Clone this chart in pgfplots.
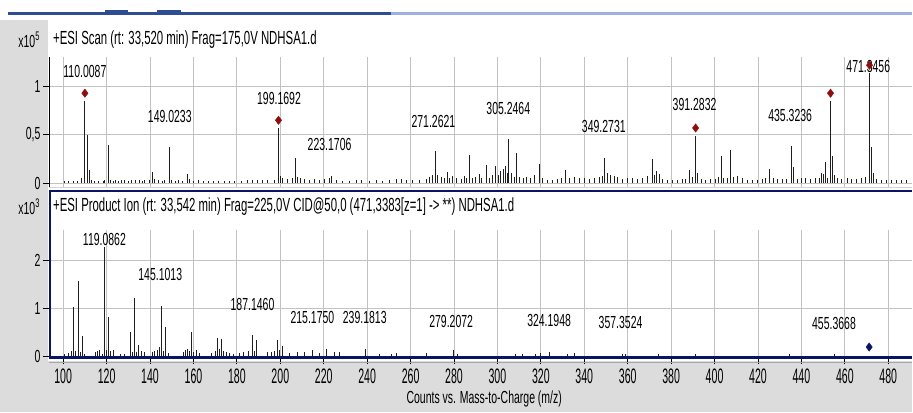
\documentclass[border=0pt]{standalone}
\usepackage{fontspec}
\setmainfont{Liberation Sans}
\newfontfamily\lbl{Liberation Sans}[FakeStretch=0.6]
\newfontfamily\ttl{Liberation Sans}[FakeStretch=0.6]
\newfontfamily\xtk{Liberation Sans}[FakeStretch=0.505]
\usepackage{pgfplots}
\usepackage{pgfplotstable}
\pgfplotsset{compat=1.18}
\definecolor{bgg}{HTML}{DCDCDC}
\definecolor{grd}{HTML}{C2C2C2}
\definecolor{navy}{HTML}{0A1464}
\definecolor{mred}{HTML}{8E0E0E}
\definecolor{chromeA}{HTML}{2E4D92}
\definecolor{chromeB}{HTML}{9DB1DE}
\definecolor{barc}{HTML}{1E1E1E}
\newcommand{\plab}{\lbl\fontsize{17.5}{17.5}\selectfont}

\pgfplotstableread{
mz val
100.48 0.02
102.32 0.02
104.62 0.02
106.46 0.02
108.45 0.05
110.01 0.85
111.0 0.50
112.0 0.14
113.05 0.03
114.27 0.02
116.11 0.02
118.41 0.02
119.18 0.03
121.0 0.39
121.94 0.03
123.01 0.02
124.23 0.03
125.61 0.02
126.84 0.03
128.06 0.03
129.90 0.02
131.44 0.03
133.28 0.03
134.96 0.03
136.34 0.02
137.57 0.03
139.87 0.03
140.94 0.11
142.17 0.04
143.70 0.03
145.54 0.02
146.76 0.03
149.02 0.37
149.83 0.03
151.67 0.02
152.89 0.03
154.73 0.02
157.03 0.09
158.26 0.04
159.79 0.02
162.09 0.03
164.39 0.02
166.69 0.02
168.98 0.02
171.28 0.02
174.35 0.02
176.65 0.02
178.95 0.02
182.01 0.02
185.08 0.03
187.38 0.03
189.67 0.03
191.97 0.03
194.27 0.03
197.34 0.03
199.17 0.57
200.10 0.07
201.17 0.05
203.47 0.04
205.77 0.05
207.0 0.26
208.07 0.06
209.29 0.05
211.13 0.04
213.43 0.03
215.73 0.04
218.03 0.03
220.33 0.04
222.63 0.05
223.70 0.07
225.7 0.03
228.8 0.02
231.8 0.02
234.9 0.03
237.2 0.03
241.0 0.02
244.1 0.03
247.1 0.02
250.2 0.03
253.3 0.04
255.6 0.04
257.9 0.03
260.9 0.03
264.0 0.03
267.1 0.04
268.6 0.06
270.1 0.08
271.26 0.33
272.4 0.08
274.0 0.06
275.5 0.05
277.0 0.11
278.1 0.05
279.3 0.07
280.9 0.05
283.2 0.04
284.7 0.07
285.8 0.05
287.0 0.29
288.5 0.05
290.1 0.06
291.6 0.09
292.8 0.05
295.0 0.19
296.2 0.05
297.7 0.08
299.3 0.18
300.5 0.08
301.6 0.12
302.6 0.15
303.5 0.18
304.5 0.10
305.25 0.455
306.5 0.10
307.7 0.06
308.9 0.31
310.3 0.06
311.8 0.05
313.3 0.06
315.3 0.05
316.9 0.08
319.2 0.20
320.7 0.05
323.0 0.03
325.3 0.03
327.6 0.04
329.6 0.05
331.4 0.14
333.3 0.05
335.3 0.06
337.6 0.05
339.9 0.05
342.2 0.04
344.5 0.05
346.8 0.06
348.3 0.07
349.27 0.26
350.6 0.10
352.1 0.08
354.1 0.07
355.2 0.06
357.5 0.04
359.8 0.05
362.1 0.05
364.4 0.04
366.7 0.05
369.0 0.07
371.3 0.25
372.4 0.08
373.3 0.12
374.4 0.09
375.9 0.04
378.2 0.03
380.5 0.03
382.8 0.03
385.1 0.04
386.6 0.04
388.3 0.14
389.7 0.06
391.28 0.49
392.3 0.10
393.8 0.04
395.8 0.03
398.1 0.04
400.4 0.04
401.9 0.06
403.0 0.28
404.2 0.05
406.1 0.05
407.1 0.345
408.5 0.06
410.4 0.07
412.7 0.05
415.0 0.03
417.3 0.03
419.6 0.03
421.9 0.04
423.4 0.05
425.2 0.145
426.9 0.05
428.8 0.04
431.1 0.04
433.0 0.04
435.32 0.386
436.4 0.165
438.0 0.04
439.8 0.05
441.8 0.05
444.1 0.04
446.4 0.05
448.4 0.05
449.3 0.10
450.2 0.09
451.1 0.22
452.0 0.05
453.4 0.845
454.2 0.28
455.1 0.08
456.6 0.05
458.6 0.04
461.0 0.05
463.2 0.04
465.5 0.04
467.8 0.05
469.4 0.06
471.35 1.14
472.3 0.37
473.2 0.10
474.7 0.04
477.0 0.03
479.3 0.03
481.6 0.03
483.9 0.03
486.2 0.03
488.5 0.03
}\topdata

\pgfplotstableread{
mz val
100.8 0.05
102.6 0.06
103.9 0.10
104.8 1.02
105.7 0.10
107.1 1.57
107.8 0.08
108.9 0.43
110.0 0.05
114.9 0.08
115.8 0.10
116.9 0.13
118.0 0.05
119.09 2.28
120.1 0.12
120.7 0.82
121.6 0.10
123.0 0.12
126.5 0.05
128.4 0.05
130.9 0.50
131.7 0.08
133.0 1.215
133.9 0.08
134.7 0.24
136.0 0.10
137.3 0.08
140.9 0.08
142.2 0.10
143.4 0.12
144.2 0.20
145.1 1.05
146.0 0.10
146.9 0.60
148.3 0.06
155.2 0.08
156.3 0.12
157.2 0.15
158.3 0.10
159.1 0.51
159.9 0.08
161.3 0.12
162.9 0.06
168.2 0.06
170.1 0.10
171.2 0.37
172.0 0.15
172.9 0.35
173.9 0.10
175.1 0.08
176.6 0.06
178.6 0.05
181.2 0.06
183.2 0.08
185.1 0.10
187.15 0.44
188.1 0.10
189.1 0.34
194.3 0.08
195.8 0.08
197.3 0.10
198.9 0.34
199.6 0.12
200.9 0.21
204.2 0.06
208.1 0.08
211.1 0.08
215.0 0.13
218.0 0.06
221.1 0.14
224.9 0.08
227.2 0.08
239.2 0.14
245.6 0.05
251.0 0.05
253.3 0.06
267.1 0.07
279.6 0.13
281.6 0.04
308.5 0.05
311.5 0.05
317.7 0.05
320.0 0.07
324.1 0.08
332.2 0.05
335.3 0.07
357.5 0.05
359.0 0.05
374.0 0.05
391.2 0.05
434.6 0.05
455.3 0.04
}\botdata

\begin{document}
\begin{tikzpicture}
\fill[white] (0pt,0pt) rectangle (913pt,413pt);
\fill[bgg] (0pt,0pt) rectangle (913pt,51pt);
\fill[bgg] (0pt,0pt) rectangle (48.5pt,393pt);
\fill[chromeA] (8pt,398pt) rectangle (392pt,401pt);
\fill[chromeB] (392pt,398pt) rectangle (913pt,401pt);
\fill[chromeA] (105pt,399pt) rectangle (128pt,402.5pt);
\fill[chromeA] (157pt,399pt) rectangle (181pt,402.5pt);
\fill[white] (49pt,51pt) rectangle (913pt,223pt);
\draw[gray!35, line width=1pt] (49pt,225pt) -- (913pt,225pt);

% ---------- top panel ----------
\begin{axis}[
  at={(49pt,226pt)}, anchor=south west, scale only axis,
  width=864pt, height=130pt,
  xmin=93.43, xmax=490.7, ymin=-0.038, ymax=1.306,
  axis x line*=bottom, axis y line*=left,
  x axis line style={draw=none},
  y axis line style={black, line width=0.8pt, -},
  xtick={100,120,...,480}, xticklabels={}, xtick style={draw=none},
  ytick={0,0.5,1}, yticklabels={0,{0,5},1},
  ytick align=outside, major tick length=6pt,
  ytick style={black, line width=0.8pt},
  grid=major, grid style={grd, line width=1pt},
  tick label style={font=\plab},
  yticklabel style={xshift=1pt},
  /pgf/number format/assume math mode=true,
  clip=false,
]
\addplot[ycomb, barc, line width=0.9pt, mark=none] table[x=mz, y=val] {\topdata};
\node[font=\plab] at (axis cs:110,1.16) {110.0087};
\node[font=\plab] at (axis cs:149.1,0.69) {149.0233};
\node[font=\plab] at (axis cs:199.4,0.88) {199.1692};
\node[font=\plab] at (axis cs:222.7,0.40) {223.1706};
\node[font=\plab] at (axis cs:270.5,0.64) {271.2621};
\node[font=\plab] at (axis cs:305.0,0.77) {305.2464};
\node[font=\plab] at (axis cs:349.0,0.585) {349.2731};
\node[font=\plab] at (axis cs:390.8,0.81) {391.2832};
\node[font=\plab] at (axis cs:434.8,0.70) {435.3236};
\node[font=\plab] at (axis cs:470.8,1.206) {471.3456};
\addplot[only marks, mark=diamond*, mark size=4.2pt, color=mred] coordinates {
(110.01,0.93) (199.17,0.65) (391.28,0.57) (453.4,0.93) (471.35,1.22)};
\end{axis}

% ---------- bottom panel ----------
\begin{axis}[
  at={(49pt,54.5pt)}, anchor=south west, scale only axis,
  width=864pt, height=128.5pt,
  xmin=93.43, xmax=490.7, ymin=-0.0375, ymax=2.64,
  axis x line*=bottom, axis y line*=left,
  x axis line style={navy, line width=3pt, -},
  y axis line style={draw=none},
  xtick={100,120,...,480}, xtick align=outside,
  xtick style={black, line width=0.8pt},
  ytick={0,1,2}, ytick align=outside, major tick length=6pt,
  ytick style={black, line width=0.8pt},
  grid=major, grid style={grd, line width=1pt},
  yticklabel style={font=\plab, xshift=1pt},
  xticklabel style={font=\xtk\fontsize{21}{21}\selectfont, yshift=-1pt},
  /pgf/number format/assume math mode=true,
  clip=false,
]
\addplot[ycomb, barc, line width=0.9pt, mark=none] table[x=mz, y=val] {\botdata};
\node[font=\plab] at (axis cs:119.0,2.43) {119.0862};
\node[font=\plab] at (axis cs:144.7,1.70) {145.1013};
\node[font=\plab] at (axis cs:187.2,1.08) {187.1460};
\node[font=\plab] at (axis cs:214.8,0.80) {215.1750};
\node[font=\plab] at (axis cs:238.9,0.80) {239.1813};
\node[font=\plab] at (axis cs:278.7,0.73) {279.2072};
\node[font=\plab] at (axis cs:323.8,0.74) {324.1948};
\node[font=\plab] at (axis cs:356.7,0.70) {357.3524};
\node[font=\plab] at (axis cs:455.0,0.68) {455.3668};
\addplot[only marks, mark=diamond*, mark size=4.2pt, color=navy] coordinates {(471.2,0.19)};
\end{axis}

\draw[navy, line width=2pt] (50pt,53pt) -- (50pt,222pt) -- (913pt,222pt);
\draw[gray!70, line width=0.8pt] (49pt,50pt) -- (913pt,50pt);

\node[anchor=west, font=\ttl\fontsize{19}{19}\selectfont, inner sep=0pt] at (53pt,373pt) {+ESI Scan (rt: 33,520 min) Frag=175,0V NDHSA1.d};
\node[anchor=west, font=\ttl\fontsize{19}{19}\selectfont, inner sep=0pt] at (53pt,206pt) {+ESI Product Ion (rt: 33,542 min) Frag=225,0V CID@50,0 (471,3383[z=1] -> **) NDHSA1.d};
\node[font=\plab, inner sep=0pt] at (29pt,373pt) {x10\raisebox{0.4em}{\fontsize{12.5}{12.5}\selectfont 5}};
\node[font=\plab, inner sep=0pt] at (29pt,206pt) {x10\raisebox{0.4em}{\fontsize{12.5}{12.5}\selectfont 3}};
\node[font=\lbl\fontsize{17.5}{17.5}\selectfont, inner sep=0pt] at (485pt,13pt) {Counts vs. Mass-to-Charge (m/z)};
\end{tikzpicture}
\end{document}
